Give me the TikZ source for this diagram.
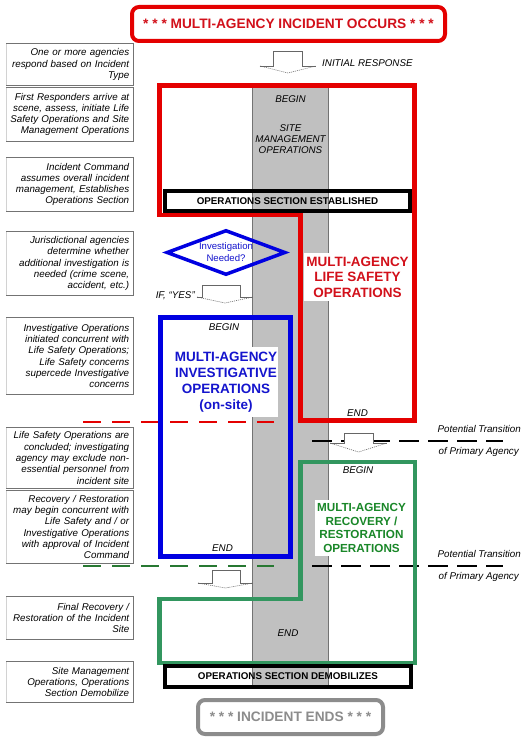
\documentclass[tikz,border=0pt]{standalone}
\usepackage{fontspec}
\setmainfont{Liberation Sans}
\usetikzlibrary{shapes.geometric}
\definecolor{myred}{RGB}{228,0,0}
\definecolor{redtxt}{RGB}{210,16,26}
\definecolor{myblue}{RGB}{0,0,225}
\definecolor{bluetxt}{RGB}{20,20,205}
\definecolor{mygreen}{RGB}{50,150,95}
\definecolor{greentxt}{RGB}{25,135,40}
\definecolor{dgreen}{RGB}{40,120,50}
\definecolor{colgray}{RGB}{192,192,192}
\definecolor{endgray}{RGB}{140,140,140}
\definecolor{boxgray}{RGB}{115,115,115}
\newcommand\blkarrow[7]{%
  \fill[white] (#1,#3) -- (#2,#3) -- (#2,#4) -- (#6,#4) -- ({(#5+#6)/2},#7) -- (#5,#4) -- (#1,#4) -- cycle;
  \draw[blkline] (#5,#4) -- (#1,#4) -- (#1,#3) -- (#2,#3) -- (#2,#4) -- (#6,#4);
  \draw[blkline, dash pattern=on 1pt off 1pt] (#5,#4) -- ({(#5+#6)/2},#7) -- (#6,#4);
}
\begin{document}
\begin{tikzpicture}[x=1pt,y=-1pt,
  lbl/.style={font=\fontsize{9.8}{11.3}\selectfont\itshape, align=right, text width=119pt, inner xsep=4pt, inner ysep=0pt, anchor=west},
  lblframe/.style={draw=boxgray, line width=0.7pt},
  lblside/.style={draw=gray!35, line width=0.5pt},
  ital/.style={font=\fontsize{9.8}{11.3}\selectfont\itshape, inner sep=0pt, align=center},
  opsbox/.style={draw=black, line width=4pt, font=\fontsize{9.8}{11}\selectfont\bfseries, inner sep=0pt},
  roundbox/.style={line width=4pt, rounded corners=7pt, font=\fontsize{13.7}{15}\selectfont\bfseries, inner sep=0pt, minimum height=34pt},
  bigtitle/.style={fill=white, align=center, font=\fontsize{13.5}{15.5}\selectfont\bfseries},
  blkline/.style={draw=gray!80!black, line width=0.6pt},
  zone/.style={line width=4.5pt, line join=miter},
  longdash/.style={line width=2pt, dash pattern=on 18pt off 11pt},
  trdash/.style={line width=1.8pt, dash pattern=on 20pt off 9pt, draw=black},
]
\useasboundingbox (0,0) rectangle (527,741);
\fill[white] (0,0) rectangle (527,741);

% left description boxes
\node[lbl, minimum height=41pt] (l1) at (6,64.5) {One or more agencies\\respond based on Incident\\Type};
\node[lbl, minimum height=53pt] (l2) at (6,114.5) {First Responders arrive at\\scene, assess, initiate Life\\Safety Operations and Site\\Management Operations};
\node[lbl, minimum height=53pt] (l3) at (6,184.5) {Incident Command\\assumes overall incident\\management, Establishes\\Operations Section};
\node[lbl, minimum height=63pt] (l4) at (6,263.5) {Jurisdictional agencies\\determine whether\\additional investigation is\\needed (crime scene,\\accident, etc.)};
\node[lbl, minimum height=76pt] (l5) at (6,356) {Investigative Operations\\initiated concurrent with\\Life Safety Operations;\\Life Safety concerns\\supercede Investigative\\concerns};
\node[lbl, minimum height=61pt] (l6) at (6,458) {Life Safety Operations are\\concluded; investigating\\agency may exclude non-\\essential personnel from\\incident site};
\node[lbl, minimum height=72pt] (l7) at (6,527) {Recovery / Restoration\\may begin concurrent with\\Life Safety and / or\\Investigative Operations\\with approval of Incident\\Command};
\node[lbl, minimum height=42pt] (l8) at (6,618) {Final Recovery /\\Restoration of the Incident\\Site};
\node[lbl, minimum height=40pt] (l9) at (6,682) {Site Management\\Operations, Operations\\Section Demobilize};
\foreach \n in {l1,l2,l3,l4,l5,l6,l7,l8,l9}{
  \draw[lblside] (\n.north west) -- (\n.south west);
  \draw[lblframe] (\n.north west) -- (\n.north east) -- (\n.south east) -- (\n.south west);
}

% gray site-management column
\fill[colgray] (252.5,86) rectangle (328,687);
\draw[boxgray, line width=0.6pt] (252.5,86) -- (252.5,687);
\draw[boxgray, line width=0.6pt] (328,86) -- (328,687);

% dashed lines
\draw[longdash, myred] (83,422) -- (274,422);
\draw[longdash, dgreen] (83,566) -- (274,566);
\draw[trdash] (312,441) -- (503,441);
\draw[trdash] (312,566) -- (503,566);

% zones
\draw[zone, myred] (159.5,85.5) -- (414.5,85.5) -- (414.5,420.5) -- (300.5,420.5) -- (300.5,215) -- (159.5,215) -- cycle;
\draw[zone, mygreen] (300.5,462) -- (415,462) -- (415,663) -- (159.5,663) -- (159.5,599) -- (300.5,599) -- cycle;
\draw[zone, myblue] (160.5,317.5) rectangle (290.5,556.5);

% operations section boxes
\node[opsbox, minimum width=245pt, minimum height=20pt] (est) at (287.5,201) {OPERATIONS SECTION ESTABLISHED};
\node[opsbox, minimum width=246pt, minimum height=21pt] (demob) at (288,676.5) {OPERATIONS SECTION DEMOBILIZES};

% start / end
\node[roundbox, draw=myred, text=redtxt, minimum width=313pt] (start) at (288.5,24) {* * * MULTI-AGENCY INCIDENT OCCURS * * *};
\node[roundbox, draw=endgray, text=endgray, minimum width=185pt] (finish) at (290.5,717) {* * * INCIDENT ENDS * * *};

% block arrows
\blkarrow{273}{302}{51}{66}{260}{316}{73}
\blkarrow{202}{240}{285}{297}{197}{253}{303}
\blkarrow{344}{373}{433}{443}{330}{387}{452}
\blkarrow{212}{240}{570}{583}{198}{253}{588}

% decision
\node[diamond, draw=myblue, line width=3.5pt, aspect=2.6, minimum width=119pt, minimum height=45pt, inner sep=0pt, align=center, text=bluetxt, font=\fontsize{9.6}{12}\selectfont] (inv) at (226,252.5) {Investigation\\Needed?};

% zone titles
\node[bigtitle, text=redtxt, inner xsep=2pt, inner ysep=4pt] (lifet) at (357.5,277) {MULTI-AGENCY\\LIFE SAFETY\\OPERATIONS};
\node[bigtitle, text=bluetxt, inner xsep=1pt, inner ysep=5pt, font=\fontsize{13.5}{16}\selectfont\bfseries] (invt) at (226,382) {MULTI-AGENCY\\INVESTIGATIVE\\OPERATIONS\\(on-site)};
\node[bigtitle, text=greentxt, inner xsep=2pt, inner ysep=4pt, font=\fontsize{11.7}{13.4}\selectfont\bfseries] (rect) at (361.5,528) {MULTI-AGENCY\\RECOVERY /\\RESTORATION\\OPERATIONS};

% small italic labels
\node[ital] (b1) at (290.5,99) {BEGIN};
\node[ital] (smo) at (290.5,139) {SITE\\MANAGEMENT\\OPERATIONS};
\node[ital] (e1) at (288,633) {END};
\node[ital] (b2) at (224,327) {BEGIN};
\node[ital] (e2) at (222.5,548) {END};
\node[ital] (e3) at (357.5,413) {END};
\node[ital] (b3) at (358,470) {BEGIN};
\node[ital, anchor=west] (ir) at (322,63) {INITIAL RESPONSE};
\node[ital, anchor=east] (iy) at (195,296) {IF, “YES”};
\node[ital, anchor=east] (pt1) at (521,429) {Potential Transition};
\node[ital, anchor=east] (pa1) at (519,452) {of Primary Agency};
\node[ital, anchor=east] (pt2) at (521,554) {Potential Transition};
\node[ital, anchor=east] (pa2) at (519,577) {of Primary Agency};
\end{tikzpicture}
\end{document}
